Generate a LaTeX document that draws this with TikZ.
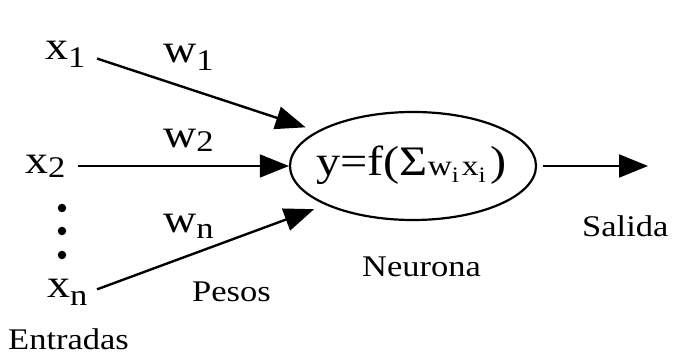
\documentclass[tikz,border=0pt]{standalone}
\usepackage{fontspec}
\setmainfont{Liberation Serif}[FakeStretch=1.15]
\usetikzlibrary{arrows.meta,shapes.geometric}
\newcommand\fsz[1]{\fontsize{#1}{#1}\selectfont}
\newcommand\varsub[3]{\fsz{40}#1\raisebox{-#3}{\fsz{30}#2}}
\begin{document}
\begin{tikzpicture}[x=1pt,y=-1pt,
  lbl/.style={inner sep=0pt, anchor=base west},
  word/.style={inner sep=0pt, anchor=base west, font=\fsz{30}},
  dotnode/.style={circle, fill=black, inner sep=0pt, minimum size=8.5pt},
  arrthick/.style={line width=2.4pt, -{Triangle[length=30pt,width=23pt]}},
  arrthin/.style={line width=1.6pt, -{Triangle[length=29pt,width=23pt]}},
  arrout/.style={line width=2.2pt, -{Triangle[length=29pt,width=23pt]}}]
\useasboundingbox (0,0) rectangle (673,363);
% neuron
\node[ellipse, draw, line width=2.2pt, minimum width=246pt, minimum height=108pt, inner sep=0pt] (neuron) at (413,166) {};
\node[lbl] (formula) at (316,176) {\fsz{42}y=f(Σ\fsz{29}w\raisebox{-7pt}{\fsz{22}i}\hspace{3pt}x\raisebox{-7pt}{\fsz{22}i}\hspace{5pt}\fsz{42})};
% inputs
\node[lbl] (x1) at (45,60) {\varsub{x}{1}{8pt}};
\node[lbl] (x2) at (25,174) {\varsub{x}{2}{4pt}};
\node[lbl] (xn) at (47,298) {\varsub{x}{n}{8pt}};
% weights
\node[lbl] (w1) at (163,63) {\varsub{w}{1}{8pt}};
\node[lbl] (w2) at (163,148) {\varsub{w}{2}{4pt}};
\node[lbl] (wn) at (163,233) {\varsub{w}{n}{6pt}};
% dots
\node[dotnode] (d1) at (62,208) {};
\node[dotnode] (d2) at (62,231) {};
\node[dotnode] (d3) at (62,255) {};
% words
\node[word] (pesos) at (192,302) {Pesos};
\node[word] (entradas) at (8,350) {Entradas};
\node[word] (neurona) at (362,277) {Neurona};
\node[word] (salida) at (582,237) {Salida};
% connectors
\coordinate (out) at (648,166);
\draw[arrthick, shorten <=12pt, shorten >=12pt] (x1.east) -- (neuron.160);
\draw[arrthin, shorten <=12pt] (x2.east |- neuron.west) -- (neuron.west);
\draw[arrthick, shorten <=10pt, shorten >=12pt] (xn.east) -- (neuron.204);
\draw[arrout, shorten <=6pt] (neuron.east) -- (out);
\end{tikzpicture}
\end{document}
